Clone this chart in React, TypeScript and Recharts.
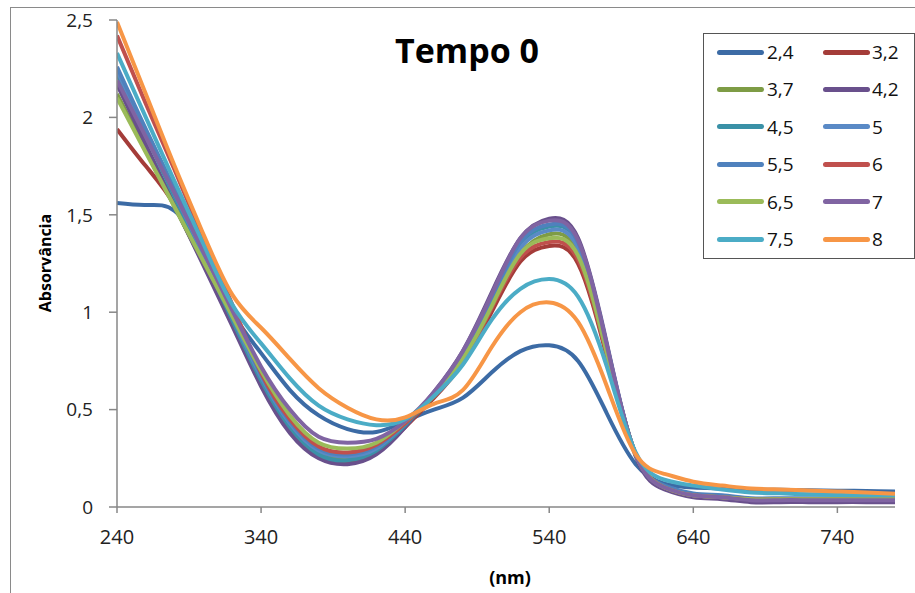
import React from 'react';
import { Line, LineChart, XAxis, YAxis } from 'recharts';

// wavelength grid (nm)
const wavelengths = [240, 260, 280, 300, 320, 340, 360, 380, 400, 420, 440, 460, 480, 500, 520, 540, 560, 580, 600, 620, 640, 660, 680, 700, 720, 740, 760, 780];

// absorbance per pH
const ph24 = [1.56, 1.55, 1.52, 1.30, 1.00, 0.79, 0.60, 0.47, 0.40, 0.385, 0.44, 0.50, 0.56, 0.69, 0.80, 0.83, 0.75, 0.48, 0.22, 0.12, 0.10, 0.095, 0.09, 0.088, 0.086, 0.084, 0.082, 0.08];
const ph32 = [1.94, 1.75, 1.55, 1.25, 0.94, 0.64, 0.40, 0.26, 0.23, 0.28, 0.41, 0.56, 0.74, 1.00, 1.26, 1.34, 1.25, 0.77, 0.27, 0.10, 0.06, 0.05, 0.035, 0.035, 0.035, 0.035, 0.035, 0.035];
const ph37 = [2.12, 1.83, 1.54, 1.25, 0.95, 0.66, 0.42, 0.28, 0.25, 0.30, 0.42, 0.57, 0.76, 1.03, 1.30, 1.40, 1.31, 0.81, 0.27, 0.10, 0.06, 0.05, 0.035, 0.035, 0.035, 0.035, 0.035, 0.035];
const ph42 = [2.17, 1.86, 1.55, 1.24, 0.93, 0.62, 0.38, 0.25, 0.22, 0.27, 0.41, 0.59, 0.80, 1.10, 1.38, 1.48, 1.38, 0.84, 0.26, 0.09, 0.05, 0.04, 0.025, 0.025, 0.025, 0.025, 0.025, 0.025];
const ph45 = [2.22, 1.91, 1.59, 1.28, 0.96, 0.65, 0.41, 0.27, 0.24, 0.29, 0.42, 0.58, 0.78, 1.07, 1.35, 1.44, 1.35, 0.82, 0.27, 0.10, 0.06, 0.05, 0.04, 0.04, 0.04, 0.04, 0.04, 0.04];
const ph5 = [2.24, 1.93, 1.61, 1.30, 0.98, 0.67, 0.43, 0.29, 0.26, 0.30, 0.43, 0.58, 0.77, 1.05, 1.33, 1.42, 1.33, 0.81, 0.27, 0.10, 0.06, 0.05, 0.04, 0.04, 0.04, 0.04, 0.04, 0.04];
const ph55 = [2.26, 1.94, 1.63, 1.31, 1.00, 0.68, 0.44, 0.30, 0.27, 0.31, 0.43, 0.58, 0.78, 1.07, 1.36, 1.45, 1.36, 0.83, 0.27, 0.11, 0.07, 0.06, 0.045, 0.045, 0.045, 0.045, 0.045, 0.045];
const ph6 = [2.42, 2.07, 1.73, 1.38, 1.04, 0.69, 0.45, 0.31, 0.28, 0.32, 0.43, 0.57, 0.75, 1.02, 1.28, 1.36, 1.27, 0.78, 0.27, 0.10, 0.06, 0.05, 0.04, 0.04, 0.04, 0.04, 0.04, 0.04];
const ph65 = [2.10, 1.82, 1.54, 1.26, 0.98, 0.70, 0.47, 0.33, 0.30, 0.33, 0.44, 0.57, 0.76, 1.03, 1.30, 1.38, 1.29, 0.79, 0.27, 0.10, 0.06, 0.05, 0.04, 0.04, 0.04, 0.04, 0.04, 0.04];
const ph7 = [2.19, 1.90, 1.61, 1.31, 1.01, 0.72, 0.50, 0.36, 0.33, 0.35, 0.44, 0.59, 0.80, 1.09, 1.38, 1.47, 1.37, 0.83, 0.27, 0.10, 0.06, 0.05, 0.035, 0.035, 0.035, 0.035, 0.035, 0.035];
const ph75 = [2.33, 2.00, 1.67, 1.35, 1.04, 0.84, 0.66, 0.52, 0.45, 0.42, 0.45, 0.57, 0.73, 0.96, 1.12, 1.17, 1.08, 0.72, 0.28, 0.14, 0.11, 0.09, 0.075, 0.07, 0.065, 0.062, 0.06, 0.06];
const ph8 = [2.49, 2.12, 1.75, 1.40, 1.09, 0.92, 0.76, 0.61, 0.51, 0.45, 0.46, 0.53, 0.60, 0.82, 1.00, 1.05, 0.95, 0.62, 0.27, 0.17, 0.13, 0.11, 0.095, 0.09, 0.085, 0.08, 0.075, 0.068];

const xTicks = [240, 340, 440, 540, 640, 740];
const yTicks = [0, 0.5, 1, 1.5, 2, 2.5];

const series = [
  { key: 'ph24', name: '2,4', color: '#3C6BA5', values: ph24 },
  { key: 'ph32', name: '3,2', color: '#A43C39', values: ph32 },
  { key: 'ph37', name: '3,7', color: '#7E9C45', values: ph37 },
  { key: 'ph42', name: '4,2', color: '#69508C', values: ph42 },
  { key: 'ph45', name: '4,5', color: '#3A91A7', values: ph45 },
  { key: 'ph5', name: '5', color: '#5A8AC6', values: ph5 },
  { key: 'ph55', name: '5,5', color: '#4F81BD', values: ph55 },
  { key: 'ph6', name: '6', color: '#C0504D', values: ph6 },
  { key: 'ph65', name: '6,5', color: '#9BBB59', values: ph65 },
  { key: 'ph7', name: '7', color: '#8064A2', values: ph7 },
  { key: 'ph75', name: '7,5', color: '#4BACC6', values: ph75 },
  { key: 'ph8', name: '8', color: '#F79646', values: ph8 },
];

const data = wavelengths.map((nm, i) => {
  const row: Record<string, number> = { nm };
  series.forEach((s) => {
    row[s.key] = s.values[i];
  });
  return row;
});

const font = '"Open Sans", sans-serif';
const axisColor = '#878787';

const LegendBox = () => (
  <div
    style={{
      position: 'absolute',
      left: 703,
      top: 33,
      width: 210,
      height: 224,
      border: '1.5px solid #555',
      background: '#fff',
      fontFamily: font,
      fontSize: 19,
      color: '#111',
    }}
  >
    {series.map((s, i) => {
      const col = i % 2;
      const row = Math.floor(i / 2);
      const top = 18 + row * 37.4;
      return (
        <div key={s.key}>
          <div
            style={{
              position: 'absolute',
              left: col ? 119 : 13,
              top: top - 2.5,
              width: 47,
              height: 5,
              borderRadius: 3,
              background: s.color,
            }}
          />
          <div
            style={{
              position: 'absolute',
              left: col ? 168 : 63,
              top: top - 13,
              lineHeight: '26px',
            }}
          >
            {s.name}
          </div>
        </div>
      );
    })}
  </div>
);

export default function App() {
  return (
    <div
      style={{
        position: 'absolute',
        left: 0,
        top: 0,
        width: 915,
        height: 593,
        overflow: 'hidden',
        background: '#fff',
        fontFamily: font,
      }}
    >
      <div
        style={{
          position: 'absolute',
          left: 10,
          top: 7,
          width: 1000,
          height: 1000,
          borderLeft: '1.5px solid #8a8a8a',
          borderTop: '1.5px solid #8a8a8a',
        }}
      />
      <LineChart
        width={915}
        height={593}
        data={data}
        margin={{ top: 20, right: 20, bottom: 30, left: 0 }}
        style={{ position: 'absolute', left: 0, top: 0 }}
      >
        <XAxis
          dataKey="nm"
          type="number"
          domain={[240, 780]}
          ticks={xTicks}
          allowDataOverflow
          height={56}
          tickSize={6}
          tickMargin={17}
          axisLine={{ stroke: axisColor, strokeWidth: 1.5 }}
          tickLine={{ stroke: axisColor, strokeWidth: 1.5 }}
          tick={{ fill: '#222', fontSize: 20, fontFamily: font }}
        />
        <YAxis
          type="number"
          domain={[0, 2.5]}
          ticks={yTicks}
          width={117}
          tickSize={8}
          tickMargin={16}
          tickFormatter={(v: number) => String(v).replace('.', ',')}
          axisLine={{ stroke: axisColor, strokeWidth: 1.5 }}
          tickLine={{ stroke: axisColor, strokeWidth: 1.5 }}
          tick={{ fill: '#222', fontSize: 19, fontFamily: font }}
        />
        {series.map((s) => (
          <Line
            key={s.key}
            type="natural"
            dataKey={s.key}
            name={s.name}
            stroke={s.color}
            strokeWidth={4}
            dot={false}
            isAnimationActive={false}
          />
        ))}
      </LineChart>

      <div
        style={{
          position: 'absolute',
          left: 367,
          top: 33,
          width: 200,
          textAlign: 'center',
          fontSize: 34,
          fontWeight: 700,
          lineHeight: 1,
          color: '#000',
        }}
      >
        Tempo 0
      </div>
      <div
        style={{
          position: 'absolute',
          left: 45,
          top: 263,
          transform: 'translate(-50%, -50%) rotate(-90deg)',
          whiteSpace: 'nowrap',
          fontSize: 16,
          fontWeight: 700,
          color: '#000',
        }}
      >
        Absorvância
      </div>
      <div
        style={{
          position: 'absolute',
          left: 510,
          top: 577,
          transform: 'translate(-50%, -50%)',
          fontSize: 18,
          fontWeight: 700,
          color: '#000',
        }}
      >
        (nm)
      </div>
      <LegendBox />
    </div>
  );
}
